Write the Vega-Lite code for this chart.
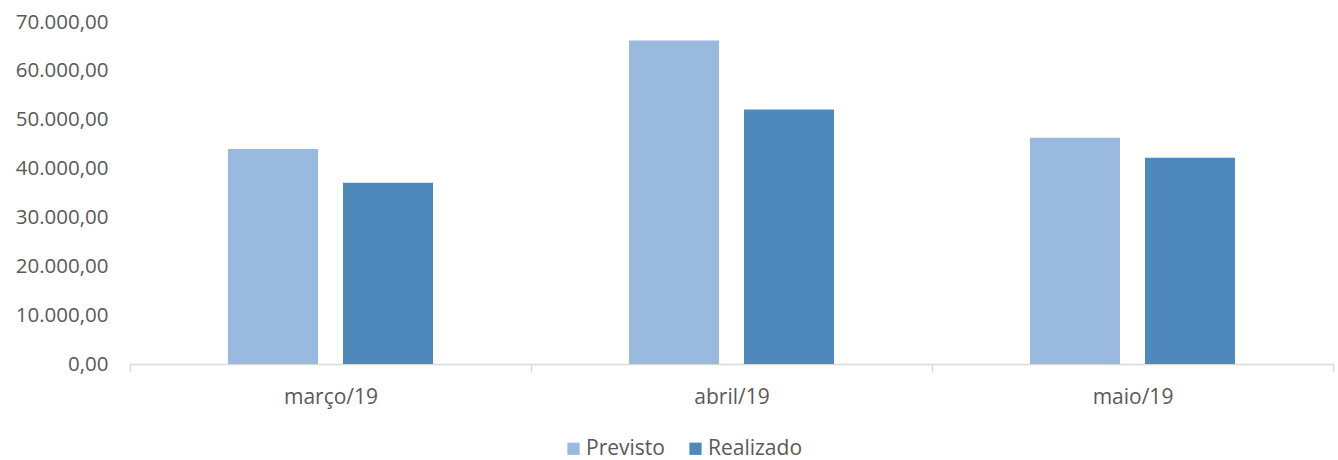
{
  "$schema": "https://vega.github.io/schema/vega-lite/v6.json",
  "width": 1203,
  "height": 342,
  "autosize": {"type": "none"},
  "padding": {"left": 130, "top": 22, "right": 5, "bottom": 96},
  "background": "white",
  "config": {
    "locale": {"number": {"decimal": ",", "thousands": ".", "grouping": [3], "currency": ["R$", ""]}},
    "font": "Open Sans",
    "view": {"stroke": null}
  },
  "data": {
    "values": [
      {"mes": "março/19", "serie": "Previsto", "valor": 44000},
      {"mes": "março/19", "serie": "Realizado", "valor": 37100},
      {"mes": "abril/19", "serie": "Previsto", "valor": 66200},
      {"mes": "abril/19", "serie": "Realizado", "valor": 52100},
      {"mes": "maio/19", "serie": "Previsto", "valor": 46300},
      {"mes": "maio/19", "serie": "Realizado", "valor": 42200}
    ]
  },
  "mark": {"type": "bar"},
  "encoding": {
    "x": {
      "field": "mes",
      "type": "nominal",
      "sort": ["março/19", "abril/19", "maio/19"],
      "scale": {"paddingInner": 0, "paddingOuter": 0},
      "axis": {
        "title": null,
        "labelAngle": 0,
        "labelFont": "Open Sans",
        "labelFontSize": 21,
        "labelColor": "#595959",
        "labelPadding": 14,
        "domainColor": "#d9d9d9",
        "domainWidth": 1.5,
        "tickColor": "#d9d9d9",
        "tickWidth": 1.5,
        "tickSize": 8,
        "tickBand": "extent",
        "grid": false
      }
    },
    "xOffset": {
      "field": "serie",
      "type": "nominal",
      "scale": {"paddingInner": 0.217, "paddingOuter": 0.852}
    },
    "y": {
      "field": "valor",
      "type": "quantitative",
      "scale": {"domain": [0, 70000], "nice": false},
      "axis": {
        "title": null,
        "values": [0, 10000, 20000, 30000, 40000, 50000, 60000, 70000],
        "format": ",.2f",
        "labelFont": "Open Sans",
        "labelFontSize": 20.5,
        "labelColor": "#595959",
        "labelPadding": 22,
        "domain": false,
        "ticks": false,
        "grid": false
      }
    },
    "color": {
      "field": "serie",
      "type": "nominal",
      "scale": {"domain": ["Previsto", "Realizado"], "range": ["#99b9df", "#4f89bc"]},
      "legend": {
        "title": null,
        "orient": "none",
        "direction": "horizontal",
        "legendX": 433,
        "legendY": 416,
        "symbolType": "square",
        "symbolSize": 150,
        "symbolStrokeWidth": 0,
        "labelFont": "Open Sans",
        "labelFontSize": 21,
        "labelColor": "#595959",
        "labelOffset": 2,
        "columnPadding": 20
      }
    }
  }
}
